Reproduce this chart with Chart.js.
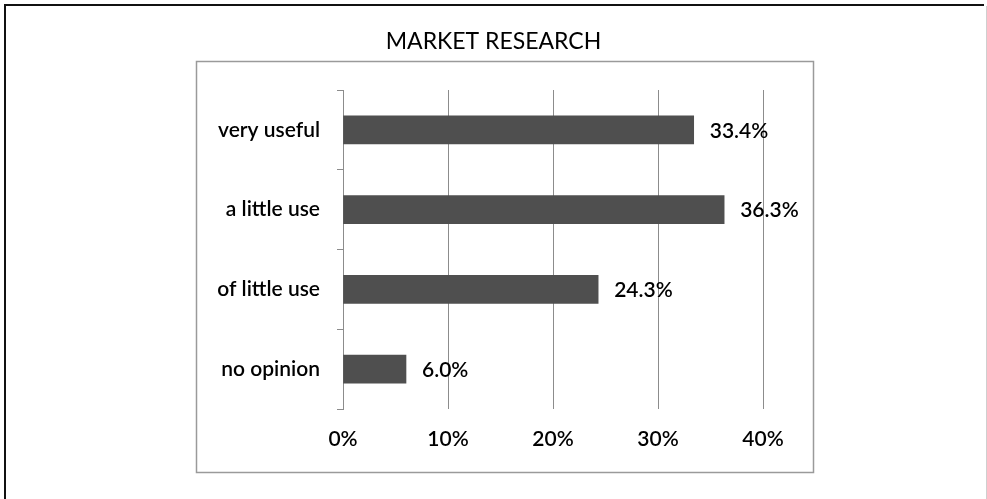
<!DOCTYPE html>
<html>
<head>
<meta charset="utf-8">
<style>
  html, body { margin: 0; padding: 0; background: #ffffff; }
  #wrap { position: relative; width: 987px; height: 499px; }
</style>
<script src="https://cdn.jsdelivr.net/npm/chart.js@4/dist/chart.umd.min.js"></script>
</head>
<body>
<div id="wrap"><canvas id="chart" width="987" height="499"></canvas></div>
<script>
// Survey answers and their shares (%)
const categories = ['very useful', 'a little use', 'of little use', 'no opinion'];
const shares = [33.4, 36.3, 24.3, 6.0];
const axisMax = 40;
const axisStep = 10;
const chartTitle = 'MARKET RESEARCH';

const FONT = 'Lato, "Open Sans", sans-serif';
const LABEL_WEIGHT = '600';

// Page frame, grey chart border and the centred heading
const framePlugin = {
  id: 'frame',
  beforeDraw(chart) {
    const ctx = chart.ctx;
    ctx.save();
    ctx.fillStyle = '#ffffff';
    ctx.fillRect(0, 0, chart.width, chart.height);
    // outer frame: dark top and left edges, light right edge
    ctx.fillStyle = '#111111';
    ctx.fillRect(4, 4, 980, 2);
    ctx.fillRect(4, 4, 2, 495);
    ctx.fillStyle = '#cfcfcf';
    ctx.fillRect(986, 6, 1, 493);
    // chart border
    ctx.strokeStyle = '#9a9a9a';
    ctx.lineWidth = 1.5;
    ctx.strokeRect(196.5, 61.5, 617, 411);
    // heading
    ctx.fillStyle = '#000000';
    ctx.font = '23px ' + FONT;
    ctx.textAlign = 'center';
    ctx.textBaseline = 'middle';
    ctx.fillText(chartTitle, 493.5, 42);
    ctx.restore();
  }
};

// Value labels at the end of each bar
const valueLabels = {
  id: 'valueLabels',
  afterDatasetsDraw(chart) {
    const ctx = chart.ctx;
    const meta = chart.getDatasetMeta(0);
    ctx.save();
    ctx.font = LABEL_WEIGHT + ' 21px ' + FONT;
    ctx.fillStyle = '#000000';
    ctx.textAlign = 'left';
    ctx.textBaseline = 'middle';
    meta.data.forEach((bar, i) => {
      const v = chart.data.datasets[0].data[i];
      ctx.fillText(v.toFixed(1) + '%', bar.x + 16, bar.y + 1);
    });
    ctx.restore();
  }
};

new Chart(document.getElementById('chart'), {
  type: 'bar',
  data: {
    labels: categories,
    datasets: [{
      data: shares,
      backgroundColor: '#4f4f4f',
      borderWidth: 0,
      barThickness: 28
    }]
  },
  options: {
    indexAxis: 'y',
    responsive: false,
    animation: false,
    layout: { padding: { left: 196, right: 224, top: 90, bottom: 40 } },
    plugins: {
      legend: { display: false },
      tooltip: { enabled: false },
      title: { display: false }
    },
    scales: {
      x: {
        min: 0,
        max: axisMax,
        ticks: {
          stepSize: axisStep,
          color: '#000000',
          font: { family: FONT, size: 21, weight: LABEL_WEIGHT },
          padding: 18,
          callback: v => v + '%'
        },
        grid: { color: '#8c8c8c', lineWidth: 1, drawTicks: false },
        border: { display: false },
        afterFit(scale) { scale.height = 50; }
      },
      y: {
        ticks: {
          color: '#000000',
          font: { family: FONT, size: 21, weight: LABEL_WEIGHT },
          padding: 17
        },
        grid: {
          offset: true,
          drawOnChartArea: false,
          drawTicks: true,
          tickLength: 6,
          color: '#8c8c8c'
        },
        border: { display: true, color: '#8c8c8c', width: 1 },
        afterFit(scale) { scale.width = 147; }
      }
    }
  },
  plugins: [framePlugin, valueLabels]
});
</script>
</body>
</html>
